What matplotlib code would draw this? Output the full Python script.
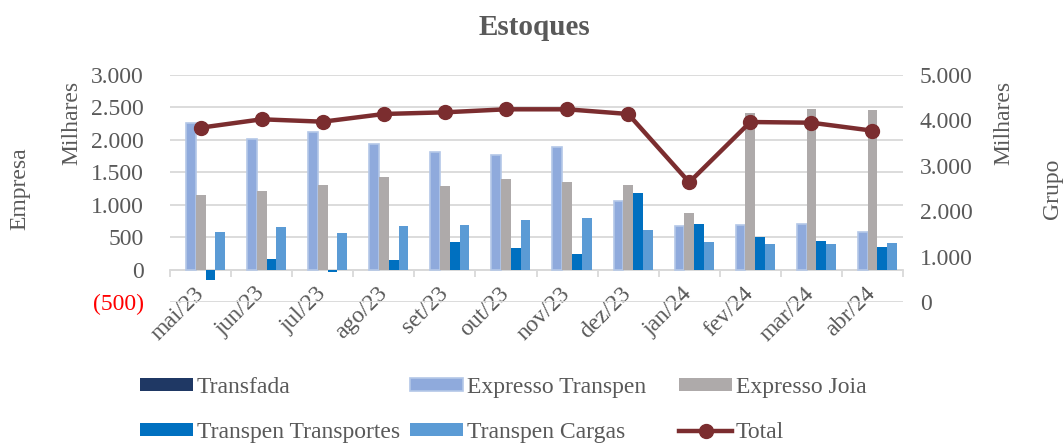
import matplotlib
matplotlib.use("Agg")
import matplotlib.pyplot as plt
import numpy as np
from matplotlib.ticker import FuncFormatter

plt.rcParams['font.family'] = ['Liberation Serif', 'DejaVu Serif']

# data (thousands)
months = ['mai/23', 'jun/23', 'jul/23', 'ago/23', 'set/23', 'out/23',
          'nov/23', 'dez/23', 'jan/24', 'fev/24', 'mar/24', 'abr/24']
transfada = [0, 0, 0, 0, 0, 0, 0, 0, 0, 0, 0, 0]
expresso_transpen = [2267, 2020, 2128, 1938, 1815, 1774, 1887, 1056, 667, 682, 697, 585]
expresso_joia = [1154, 1215, 1303, 1420, 1282, 1395, 1349, 1308, 872, 2415, 2477, 2460]
transpen_transportes = [-154, 169, -35, 149, 420, 338, 236, 1174, 703, 503, 436, 343]
transpen_cargas = [574, 662, 569, 666, 687, 764, 800, 615, 431, 395, 390, 415]
total = [3840, 4025, 3972, 4142, 4179, 4245, 4245, 4142, 2637, 3965, 3950, 3774]

txt = '#595959'
grid = '#D9D9D9'
fs = 17

fig = plt.figure(figsize=(10.63, 4.44), dpi=100)
ax = fig.add_axes([0.16, 0.3198, 0.6895, 0.5112])
ax2 = ax.twinx()

x = np.arange(len(months))
w = 0.16
series = [
    ('Transfada', transfada, '#1F3864', 0),
    ('Expresso Transpen', expresso_transpen, '#8FAADC', 1.2),
    ('Expresso Joia', expresso_joia, '#AEAAAA', 0),
    ('Transpen Transportes', transpen_transportes, '#0070C0', 0),
    ('Transpen Cargas', transpen_cargas, '#5B9BD5', 0),
]
handles = {}
for i, (name, vals, col, lw) in enumerate(series):
    b = ax.bar(x + (i - 2) * w, vals, w, color=col, edgecolor='#B4C7E7',
               linewidth=lw, label=name, zorder=3)
    handles[name] = b

ln, = ax2.plot(x, total, color='#7B2D2F', lw=3.2, marker='o', ms=10,
               label='Total', zorder=5)
handles['Total'] = ln

ax.set_xlim(-0.5, len(months) - 0.5)
ax.set_ylim(-500, 3000)
ax.set_yticks(np.arange(-500, 3001, 500))
ax2.set_ylim(0, 5000)
ax2.set_yticks(np.arange(0, 5001, 1000))


def fmt(v, pos):
    s = f"{abs(v):,.0f}".replace(',', '.')
    return f"({s})" if v < 0 else s


ax.yaxis.set_major_formatter(FuncFormatter(fmt))
ax2.yaxis.set_major_formatter(FuncFormatter(fmt))
ax.grid(axis='y', color=grid, lw=1.3, zorder=0)
ax.set_axisbelow(True)

for a in (ax, ax2):
    for s in ['top', 'left', 'right', 'bottom']:
        a.spines[s].set_visible(False)
ax.tick_params(axis='y', length=0, labelsize=fs, labelcolor=txt, pad=19)
ax2.tick_params(axis='y', length=0, labelsize=fs, labelcolor=txt, pad=12)
ax.spines['bottom'].set_visible(True)
ax.spines['bottom'].set_position(('data', 0))
ax.spines['bottom'].set_color(grid)
ax.spines['bottom'].set_linewidth(1.3)

ax.set_xticks(x)
ax.set_xticklabels(months, rotation=45, ha='right', va='center',
                   rotation_mode='anchor', fontsize=fs, color=txt)
ax.tick_params(axis='x', length=0, pad=15)
ax.set_xticks(np.arange(-0.5, len(months), 1), minor=True)
ax.tick_params(axis='x', which='minor', length=5, color=grid, width=1.3)

ax.get_yticklabels()[0].set_color('red')

fig.text(0.019, 0.574, 'Empresa', rotation=90, ha='center', va='center',
         fontsize=fs, color=txt)
fig.text(0.068, 0.723, 'Milhares', rotation=90, ha='center', va='center',
         fontsize=fs, color=txt)
fig.text(0.944, 0.723, 'Milhares', rotation=90, ha='center', va='center',
         fontsize=fs, color=txt)
fig.text(0.990, 0.574, 'Grupo', rotation=90, ha='center', va='center',
         fontsize=fs, color=txt)
fig.text(0.503, 0.937, 'Estoques', ha='center', va='center',
         fontsize=21, fontweight='bold', color=txt)

# legend: three single-column blocks
cols = [['Transfada', 'Transpen Transportes'],
        ['Expresso Transpen', 'Transpen Cargas'],
        ['Expresso Joia', 'Total']]
xs = [140, 410, 679]
for names, xp in zip(cols, xs):
    fig.legend([handles[k] for k in names], names, loc='upper left',
               bbox_to_anchor=(xp / 1063, 1 - 377 / 444), frameon=False,
               fontsize=fs, labelcolor=txt, handlelength=2.25,
               handleheight=0.5, handletextpad=0.15, labelspacing=1.02,
               borderpad=0, borderaxespad=0)

fig.savefig('out.png', dpi=100)
